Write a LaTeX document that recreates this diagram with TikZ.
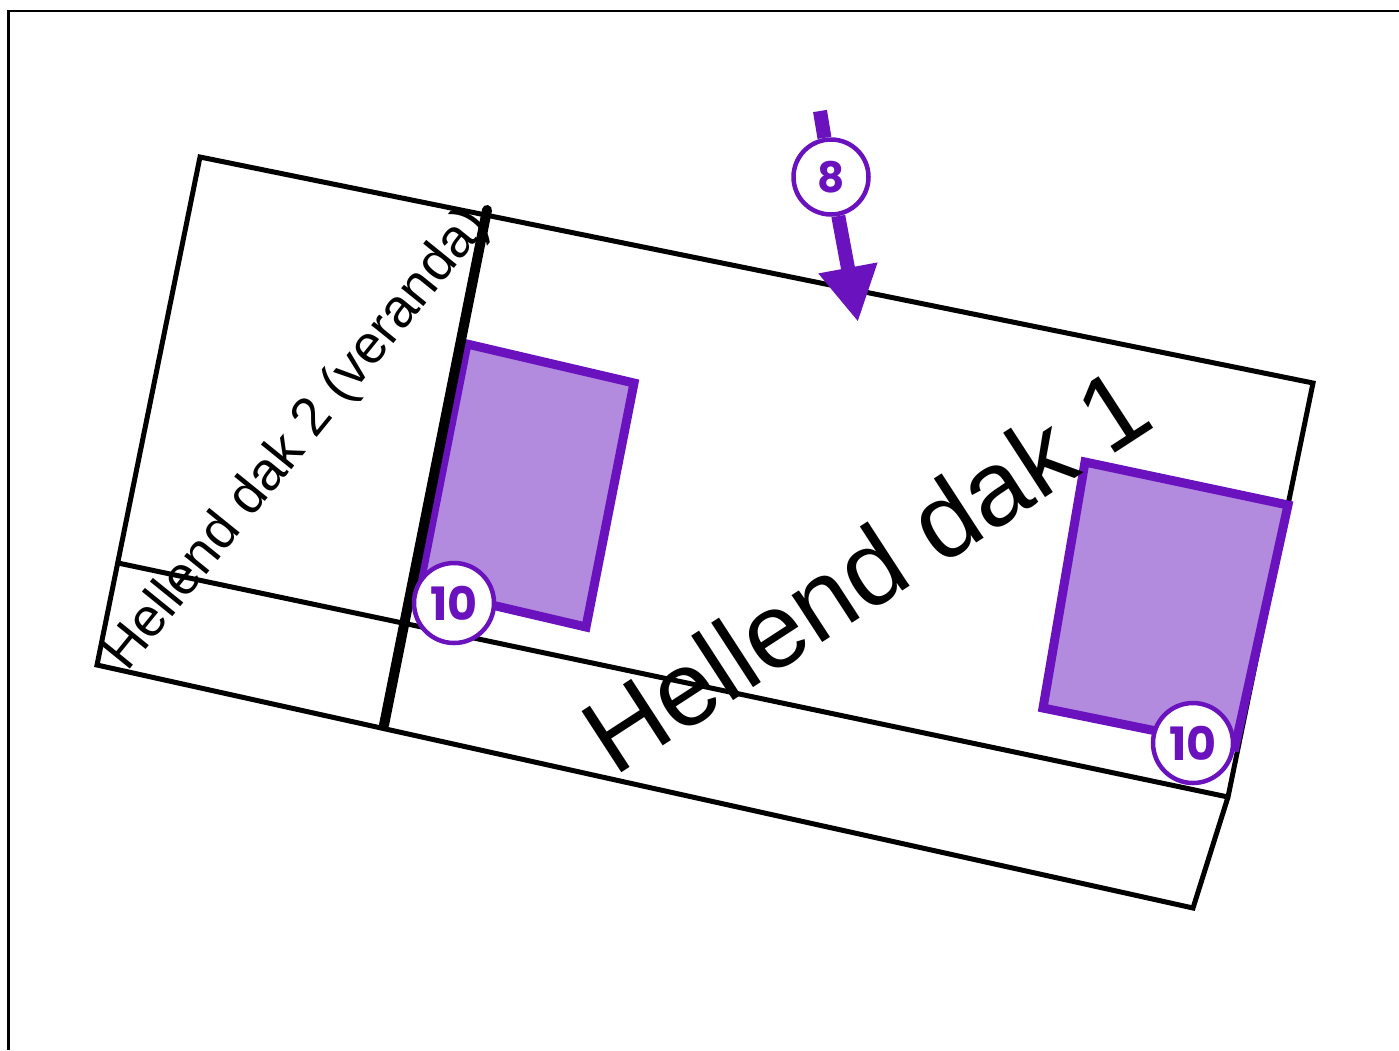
\documentclass[tikz,border=0pt]{standalone}
\usepackage{fontspec}
\setmainfont{Liberation Sans}
\newfontfamily\popfont{Poppins}
\usetikzlibrary{arrows.meta}
\definecolor{pstroke}{RGB}{106,18,190}
\definecolor{pfill}{RGB}{179,139,222}
\begin{document}
\begin{tikzpicture}[x=1pt,y=-1pt,
  frameline/.style={line width=2.5pt,black},
  outline/.style={line width=5pt,black,line join=miter},
  wallline/.style={line width=10pt,black,line cap=round},
  panel/.style={line width=9pt,draw=pstroke,fill=pfill,line join=miter},
  badge/.style={circle,draw=pstroke,fill=white,line width=4.5pt,inner sep=0pt,
    text=pstroke,font=\popfont\bfseries\fontsize{46}{46}\selectfont},
  badgeeight/.style={badge,minimum size=75pt,font=\popfont\bfseries\fontsize{42}{42}\selectfont},
  badgeten/.style={badge,minimum size=80pt},
  parrow/.style={line width=14pt,draw=pstroke},
  roofbig/.style={anchor=base west,rotate=33,inner sep=0pt,font=\fontsize{106}{106}\selectfont},
  roofsmall/.style={anchor=base west,rotate=51,inner sep=0pt,font=\fontsize{54}{54}\selectfont}
]
\useasboundingbox (0,0) rectangle (1399,1050);
\fill[white] (0,0) rectangle (1399,1050);
\coordinate (fbl) at (8.5,1050);
\coordinate (ftl) at (8.5,11);
\coordinate (ftr) at (1399,11);
\draw[frameline] (fbl) -- (ftl) -- (ftr);

% roof outline
\coordinate (A) at (200,157);
\coordinate (B) at (1313,383);
\coordinate (C) at (1228,797);
\coordinate (D) at (1193,908);
\coordinate (E) at (97,665);
\coordinate (F) at (118,563);
\draw[outline] (A) -- (B) -- (C) -- (D) -- (E) -- cycle;
\draw[outline] (F) -- (C);

% panels
\coordinate (p1a) at (467,344);
\coordinate (p1b) at (634,383);
\coordinate (p1c) at (586,627);
\coordinate (p1d) at (419,588);
\draw[panel] (p1a) -- (p1b) -- (p1c) -- (p1d) -- cycle;
\coordinate (p2a) at (1085,462);
\coordinate (p2b) at (1288,505);
\coordinate (p2c) at (1235,747);
\coordinate (p2d) at (1043,708);
\draw[panel] (p2a) -- (p2b) -- (p2c) -- (p2d) -- cycle;

% wall line
\coordinate (T1) at (487,210);
\coordinate (T2) at (384,725);
\draw[wallline] (T1) -- (T2);

% texts
\node[roofbig] (t1) at (614,778) {Hellend dak 1};
\node[roofsmall] (t2) at (127,673) {Hellend dak 2 (veranda)};

% badges
\node[badgeeight] (c8) at (831,177) {8};
\node[badgeten] (c10a) at (454,603) {10};
\node[badgeten] (c10b) at (1193,743) {10};

% arrow
\coordinate (a8top) at (820,111);
\coordinate (a8tip) at (858,322);
\draw[parrow] (a8top) -- (c8);
\draw[parrow,-{Triangle[length=55pt,width=56pt]}] (c8) -- (a8tip);
\end{tikzpicture}
\end{document}
